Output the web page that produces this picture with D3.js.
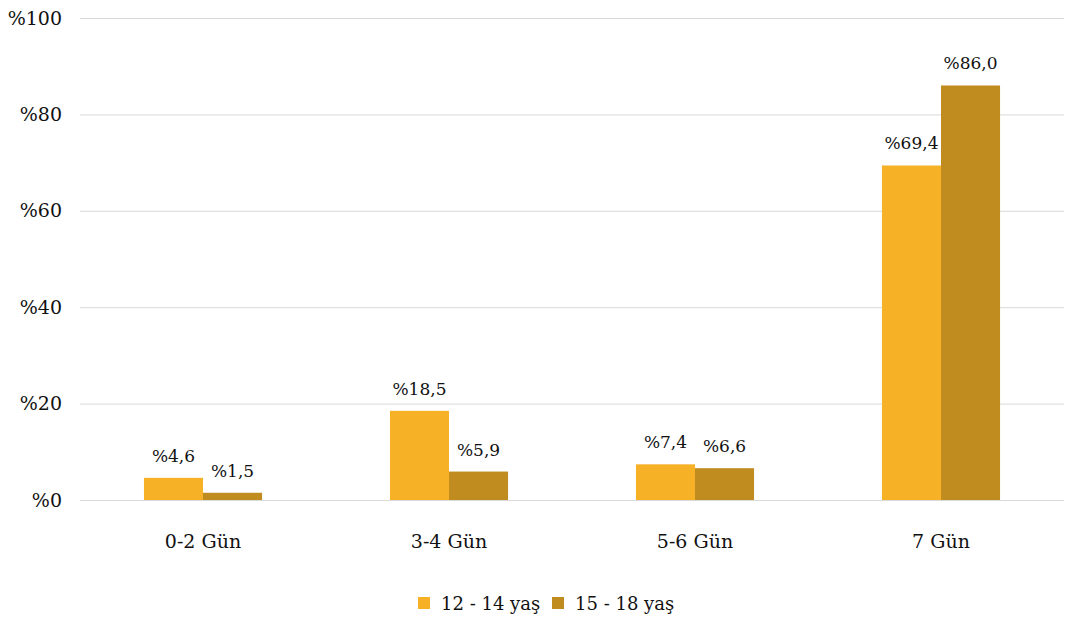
<!DOCTYPE html>
<html><head><meta charset="utf-8">
<script src="https://cdn.jsdelivr.net/npm/d3@7"></script>
<style>body{margin:0;background:#fff}svg{display:block}</style>
</head><body><svg id="c" width="1071" height="620"></svg>
<script>
const categories = ["0-2 Gün","3-4 Gün","5-6 Gün","7 Gün"];
const seriesNames = ["12 - 14 yaş","15 - 18 yaş"];
const values1214 = [4.6, 18.5, 7.4, 69.4];
const values1518 = [1.5, 5.9, 6.6, 86.0];
const yTicks = [0,20,40,60,80,100];
const colors = ["#F6B126","#C08B1F"];

(function(){
const FONT = "'DejaVu Serif', 'Times New Roman', Times, serif";
const svg = d3.select("#c");
const L = 80, R = 1064, T = 18, B = 500;
const x = d3.scaleBand().domain(categories).range([L,R]).paddingInner(0.52).paddingOuter(0.26);
const xs = d3.scaleBand().domain(seriesNames).range([0,x.bandwidth()]);
const y = d3.scaleLinear().domain([0,100]).range([B,T]);
const fmt = v => "%" + v.toFixed(1).replace(".", ",");

const yAxis = d3.axisLeft(y).tickValues(yTicks).tickSize(-(R-L)).tickFormat(d => "%" + d);
const ga = svg.append("g").attr("transform",`translate(${L},0)`).call(yAxis).attr("font-family",FONT).attr("font-size",19);
ga.select(".domain").remove();
ga.selectAll(".tick line").attr("stroke","#d9d9d9").attr("stroke-width",1);
ga.selectAll(".tick text").attr("x",-18).attr("dy","0.32em").attr("fill","#111");

const series = [values1214, values1518];
series.forEach((vals,si)=>{
  const g = svg.append("g").attr("font-family",FONT).attr("font-size",17);
  g.selectAll("rect").data(vals).join("rect")
    .attr("x",(d,i)=>x(categories[i])+xs(seriesNames[si]))
    .attr("width",xs.bandwidth())
    .attr("y",d=>y(d)).attr("height",d=>B-y(d))
    .attr("fill",colors[si]);
  g.selectAll("text").data(vals).join("text")
    .attr("x",(d,i)=>x(categories[i])+xs(seriesNames[si])+xs.bandwidth()/2)
    .attr("y",d=>y(d)-16)
    .attr("text-anchor","middle").attr("fill","#111")
    .text(fmt);
});

const gx = svg.append("g").attr("transform",`translate(0,${B})`).call(d3.axisBottom(x).tickSize(0).tickPadding(0)).attr("font-family",FONT).attr("font-size",19);
gx.select(".domain").remove();
gx.selectAll(".tick text").attr("dy",0).attr("y",48).attr("fill","#111");

const leg = svg.append("g").attr("font-family",FONT).attr("font-size",18);
const lx = [418, 552];
seriesNames.forEach((n,i)=>{
  leg.append("rect").attr("x",lx[i]).attr("y",597).attr("width",12).attr("height",12).attr("fill",colors[i]);
  leg.append("text").attr("x",lx[i]+23).attr("y",610).attr("fill","#111").text(n);
});
})();
</script></body></html>
